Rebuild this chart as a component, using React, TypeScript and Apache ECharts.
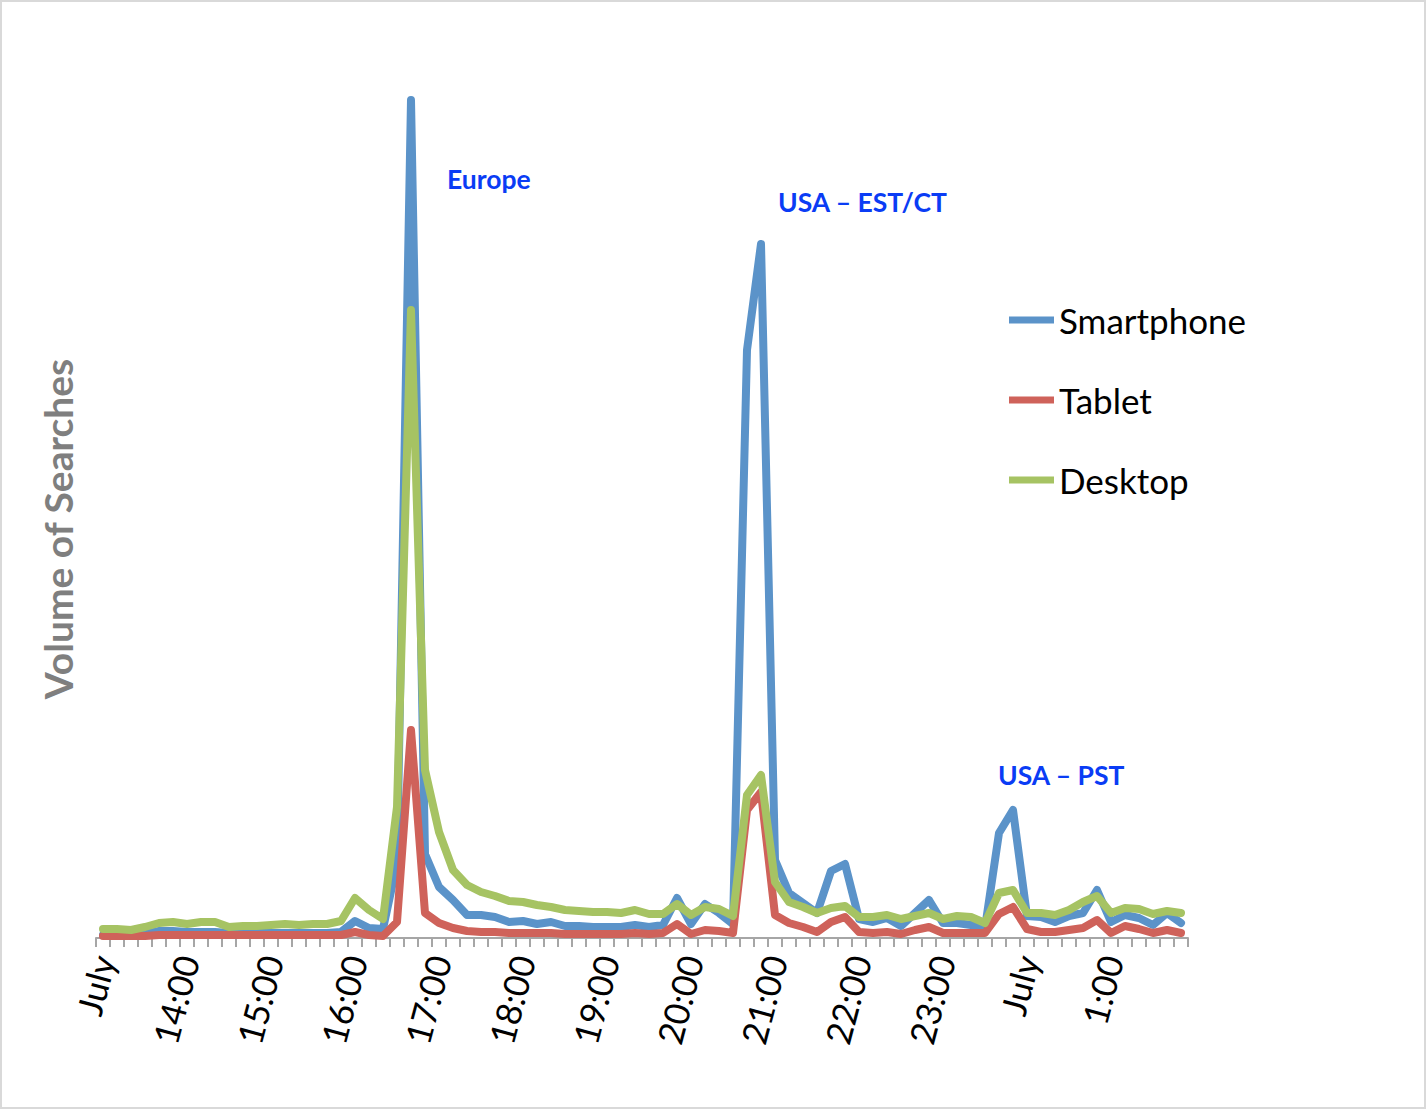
import React, { useEffect, useRef } from "react";
import * as echarts from "echarts";

const categories = [
  "13:00", "13:10", "13:20", "13:30", "13:40", "13:50",
  "14:00", "14:10", "14:20", "14:30", "14:40", "14:50",
  "15:00", "15:10", "15:20", "15:30", "15:40", "15:50",
  "16:00", "16:10", "16:20", "16:30", "16:40", "16:50",
  "17:00", "17:10", "17:20", "17:30", "17:40", "17:50",
  "18:00", "18:10", "18:20", "18:30", "18:40", "18:50",
  "19:00", "19:10", "19:20", "19:30", "19:40", "19:50",
  "20:00", "20:10", "20:20", "20:30", "20:40", "20:50",
  "21:00", "21:10", "21:20", "21:30", "21:40", "21:50",
  "22:00", "22:10", "22:20", "22:30", "22:40", "22:50",
  "23:00", "23:10", "23:20", "23:30", "23:40", "23:50",
  "0:00", "0:10", "0:20", "0:30", "0:40", "0:50",
  "1:00", "1:10", "1:20", "1:30", "1:40", "1:50",
];

// Day-change ticks show the month instead of the hour
const dayLabels: Record<string, string> = { "13:00": "July", "0:00": "July" };

const smartphone = [
  3, 3, 3, 4, 7, 7, 6, 6, 6, 5, 5, 5, 5, 5, 5, 5, 5, 6,
  17, 10, 9, 75, 838, 84, 51, 38, 23, 23, 21, 16, 17, 14, 16, 12, 12, 11, 11, 11, 13, 11,
  13, 40, 14, 34, 25, 14, 588, 694, 78, 45, 35, 25, 67, 74, 19, 16, 20, 12, 25, 38,
  15, 15, 13, 10, 105, 128, 22, 21, 16, 22, 25, 48, 16, 23, 20, 13, 25, 15,
];

const tablet = [
  2, 2, 2, 2, 3, 3, 3, 3, 3, 3, 3, 3, 3, 3, 3, 3, 3, 3,
  6, 3, 2, 16, 208, 25, 15, 10, 7, 6, 6, 5, 5, 5, 5, 4, 4, 4, 4, 4, 5, 4,
  5, 14, 4, 8, 7, 5, 128, 146, 23, 15, 11, 6, 16, 21, 6, 5, 6, 4, 8, 11,
  5, 5, 5, 5, 24, 31, 9, 6, 6, 8, 10, 18, 5, 12, 9, 5, 8, 5,
];

const desktop = [
  9, 9, 8, 11, 15, 16, 14, 16, 16, 11, 12, 12, 13, 14, 13, 14, 14, 17,
  40, 28, 19, 131, 628, 168, 106, 68, 53, 46, 42, 37, 36, 33, 31, 28, 27, 26, 26, 25, 28, 24,
  24, 34, 23, 31, 29, 22, 143, 163, 56, 36, 31, 25, 30, 32, 21, 21, 23, 19, 22, 25,
  19, 22, 21, 15, 45, 48, 25, 25, 23, 28, 36, 42, 25, 30, 29, 24, 27, 25,
];

const seriesNames = ["Smartphone", "Tablet", "Desktop"];
const seriesColors = ["#5B93C9", "#CF625A", "#A6C363"];
const annotations = [
  { text: "USA – EST/CT", x: 778, y: 202 },
  { text: "Europe", x: 447, y: 179 },
  { text: "USA – PST", x: 998, y: 775 },
];

export default function App() {
  const ref = useRef<HTMLDivElement>(null);
  useEffect(() => {
    if (!ref.current) return;
    const chart = echarts.init(ref.current, null, { renderer: "svg" });
    const values = [smartphone, tablet, desktop];
    chart.setOption({
      animation: false,
      backgroundColor: "#ffffff",
      grid: { left: 96, right: 239, top: 88, bottom: 172, containLabel: false },
      xAxis: {
        type: "category",
        data: categories,
        boundaryGap: true,
        axisLine: { show: true, lineStyle: { color: "#A6A6A6", width: 2 } },
        axisTick: { show: true, interval: 0, length: 9, lineStyle: { color: "#A6A6A6", width: 2 } },
        axisLabel: {
          interval: 5,
          rotate: 75,
          margin: 18,
          color: "#000000",
          fontFamily: "Lato",
          fontSize: 35,
          formatter: (v: string) => dayLabels[v] ?? v,
        },
        splitLine: { show: false },
      },
      yAxis: {
        type: "value",
        min: 0,
        max: 850,
        axisLine: { show: false },
        axisTick: { show: false },
        axisLabel: { show: false },
        splitLine: { show: false },
      },
      legend: {
        orient: "vertical",
        left: 1009,
        top: 300,
        padding: 0,
        itemWidth: 45,
        itemHeight: 7,
        itemGap: 40,
        icon: "rect",
        data: seriesNames,
        textStyle: { fontFamily: "Lato", fontSize: 35, color: "#000000", lineHeight: 40 },
      },
      series: seriesNames.map((name, i) => ({
        name,
        type: "line",
        data: values[i],
        symbol: "none",
        color: seriesColors[i],
        lineStyle: { width: 8, color: seriesColors[i], cap: "round", join: "round" },
        z: 2 + i,
      })),
      graphic: [
        {
          type: "rect",
          shape: { x: 1, y: 1, width: 1424, height: 1107 },
          style: { fill: "none", stroke: "#D9D9D9", lineWidth: 2 },
          silent: true,
        },
        {
          type: "text",
          x: 58,
          y: 529,
          rotation: Math.PI / 2,
          style: {
            text: "Volume of Searches",
            fill: "#7F7F7F",
            fontFamily: "Lato",
            fontWeight: "bold",
            fontSize: 39,
            align: "center",
            verticalAlign: "middle",
          },
        },
        ...annotations.map((a) => ({
          type: "text",
          x: a.x,
          y: a.y,
          style: {
            text: a.text,
            fill: "#0A3CF5",
            fontFamily: "Lato",
            fontWeight: "bold",
            fontSize: 26.5,
            align: "left",
            verticalAlign: "middle",
          },
        })),
      ],
    });
    return () => chart.dispose();
  }, []);
  return (
    <div
      ref={ref}
      style={{ position: "absolute", left: 0, top: 0, width: 1427, height: 1110 }}
    />
  );
}
